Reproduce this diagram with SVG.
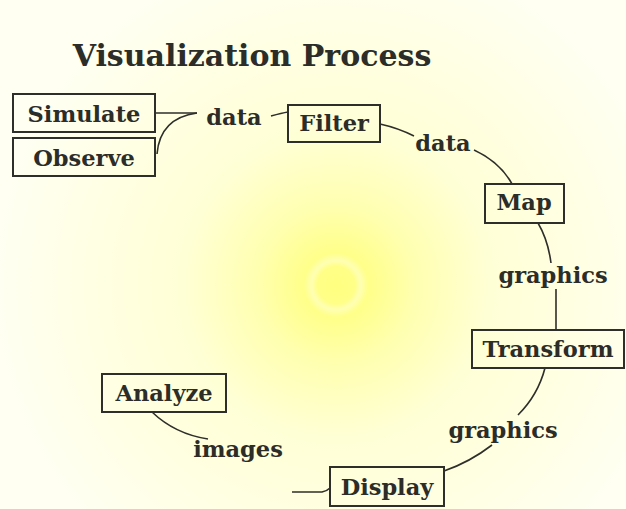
<svg xmlns="http://www.w3.org/2000/svg" width="626" height="509" viewBox="0 0 626 509">
<defs>
<radialGradient id="glow" cx="336" cy="285" r="340" gradientUnits="userSpaceOnUse">
<stop offset="0" stop-color="#ffff80"/>
<stop offset="0.055" stop-color="#ffff88"/>
<stop offset="0.072" stop-color="#ffffb4"/>
<stop offset="0.095" stop-color="#ffff8a"/>
<stop offset="0.23" stop-color="#ffffb0"/>
<stop offset="0.45" stop-color="#ffffd6"/>
<stop offset="1" stop-color="#fffff2"/>
</radialGradient>
<style>
.box{fill:none;stroke:#2e2e2a;stroke-width:2}
.t{font-family:"DejaVu Serif","Liberation Serif",serif;font-weight:bold;font-size:22.5px;fill:#2c2c28;text-anchor:middle}
.c{fill:none;stroke:#2e2e2a;stroke-width:1.6}
</style>
</defs>
<rect width="626" height="509" fill="url(#glow)"/>
<text x="252" y="66" style="font-family:'DejaVu Serif','Liberation Serif',serif;font-weight:bold;font-size:30px;fill:#2c2c28;text-anchor:middle">Visualization Process</text>
<g id="connectors">
<path class="c" d="M155,113 L197,113"/>
<path class="c" d="M157,154 Q160,118 197,113"/>
<path class="c" d="M271,116 Q282,113 288,112"/>
<path class="c" d="M380,124 Q398,128 414,136"/>
<path class="c" d="M474,150 Q500,162 512,184"/>
<path class="c" d="M538,223 Q548,240 551,263"/>
<path class="c" d="M556,289 L556,330"/>
<path class="c" d="M545,368 Q538,395 518,415"/>
<path class="c" d="M492,445 Q470,462 444,471"/>
<path class="c" d="M152,412 Q175,434 208,439"/>
<path class="c" d="M292,492 L322,492 Q327,491 330,488"/>
</g>
<g id="simulate"><rect class="box" x="13" y="94" width="142" height="38"/><text class="t" x="84" y="122">Simulate</text></g>
<g id="observe"><rect class="box" x="13" y="138" width="142" height="38"/><text class="t" x="84" y="166">Observe</text></g>
<g id="data1"><text class="t" x="234" y="125">data</text></g>
<g id="filter"><rect class="box" x="288" y="105" width="92" height="37"/><text class="t" x="334" y="131">Filter</text></g>
<g id="data2"><text class="t" x="443" y="151">data</text></g>
<g id="map"><rect class="box" x="485" y="184" width="79" height="39"/><text class="t" x="524" y="210">Map</text></g>
<g id="graphics1"><text class="t" x="553" y="283">graphics</text></g>
<g id="transform"><rect class="box" x="472" y="330" width="152" height="38"/><text class="t" x="548" y="357">Transform</text></g>
<g id="graphics2"><text class="t" x="503" y="438">graphics</text></g>
<g id="analyze"><rect class="box" x="102" y="374" width="124" height="38"/><text class="t" x="164" y="401">Analyze</text></g>
<g id="images"><text class="t" x="238" y="457">images</text></g>
<g id="display"><rect class="box" x="330" y="467" width="114" height="39"/><text class="t" x="387" y="495">Display</text></g>
</svg>
